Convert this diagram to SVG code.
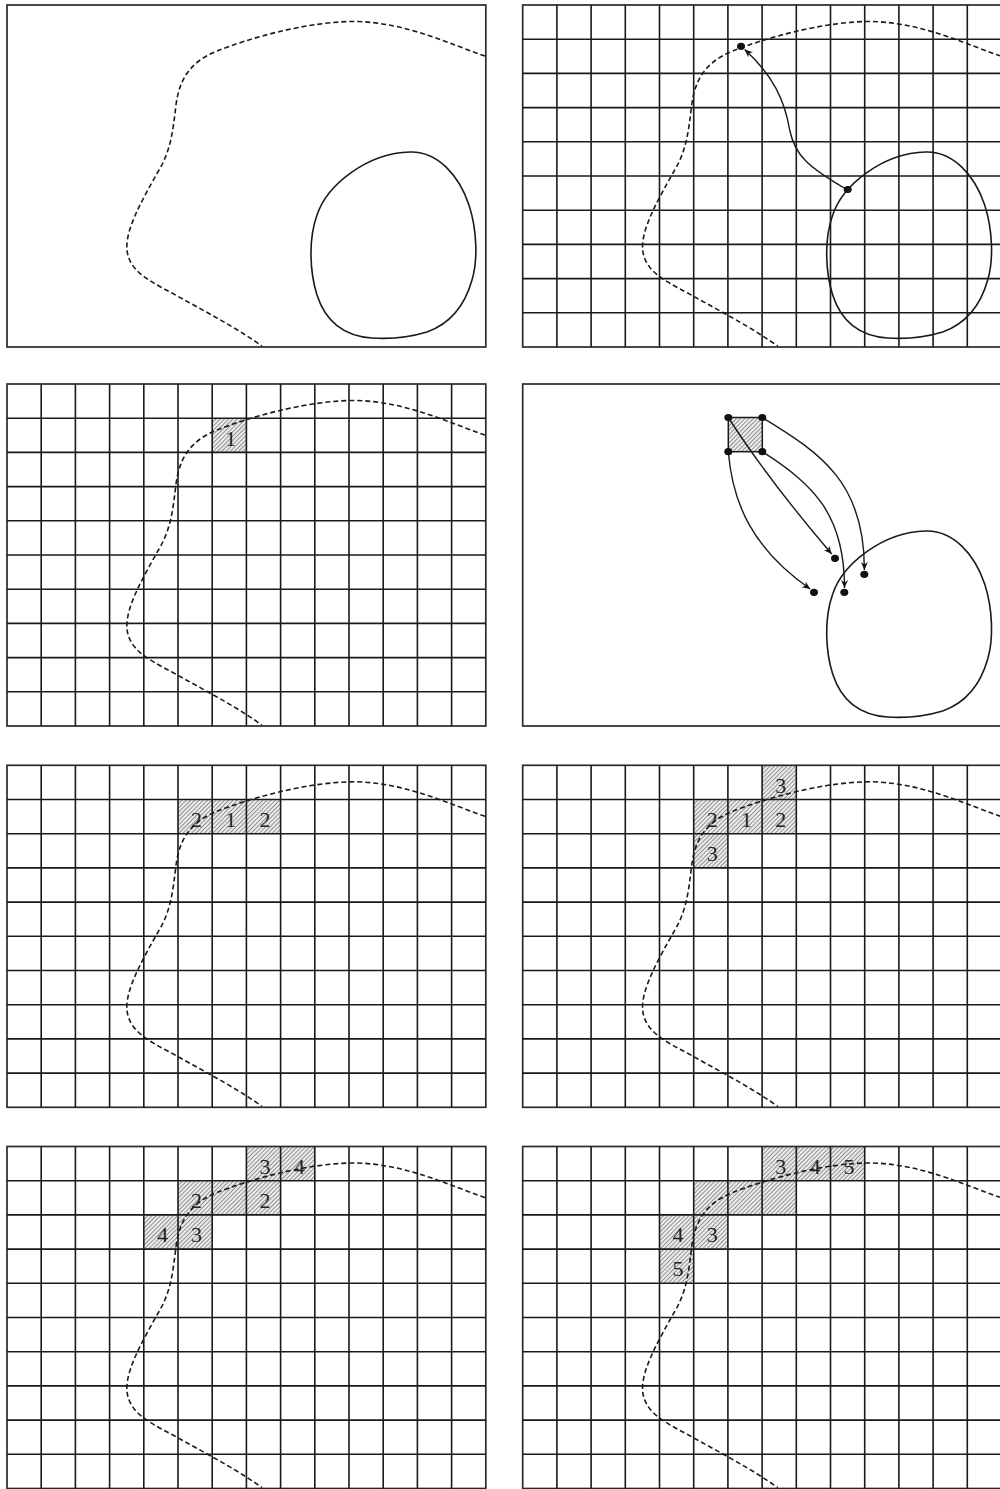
<svg xmlns="http://www.w3.org/2000/svg" xmlns:xlink="http://www.w3.org/1999/xlink" width="1000" height="1489" viewBox="0 0 1000 1489">
<style>
.frame{fill:none;stroke:#2a2a2a;stroke-width:1.7}
.grid{fill:none;stroke:#1a1a1a;stroke-width:1.6}
.bnd{fill:none;stroke:#1a1a1a;stroke-width:1.6;stroke-dasharray:5 3}
.blob{fill:none;stroke:#1a1a1a;stroke-width:1.6}
.cell{fill:url(#hatch)}
.lbl{font-family:"Liberation Serif","Times New Roman",serif;font-size:22px;fill:#222;text-anchor:middle}
.arr{fill:none;stroke:#1a1a1a;stroke-width:1.4;marker-end:url(#ah)}
.dot{fill:#111}
</style>
<defs>
<pattern id="hatch" width="3" height="3" patternUnits="userSpaceOnUse" patternTransform="rotate(45)">
<rect width="3" height="3" fill="#ececec"/>
<line x1="1.5" y1="0" x2="1.5" y2="3" stroke="#888" stroke-width="0.9"/>
</pattern>
<marker id="ah" markerUnits="userSpaceOnUse" markerWidth="10" markerHeight="8" refX="8" refY="4" orient="auto">
<path d="M0,0.5 L8,4 L0,7.5 L2.5,4 Z" fill="#111"/>
</marker>
<rect id="frm" class="frame" x="0" y="0" width="478.8" height="342"/>
<path id="grd" class="grid" d="M34.2,0V342M68.4,0V342M102.6,0V342M136.8,0V342M171,0V342M205.2,0V342M239.4,0V342M273.6,0V342M307.8,0V342M342,0V342M376.2,0V342M410.4,0V342M444.6,0V342M0,34.2H478.8M0,68.4H478.8M0,102.6H478.8M0,136.8H478.8M0,171H478.8M0,205.2H478.8M0,239.4H478.8M0,273.6H478.8M0,307.8H478.8"/>
<path id="bnd" class="bnd" d="M478,51 C440,38 400,18 350,16.5 C300,16 240,34 210,46 C180,58 172,78 169,100 C166,125 164,145 152,165 C135,195 118,225 120,245 C122,265 140,275 165,288 C195,305 225,320 255,341"/>
<path id="blob" class="blob" d="M403,147 C430,146 452,170 462,200 C470,225 471,255 465,275 C458,300 445,318 420,327 C400,333 380,334 365,333 C335,331 318,315 310,290 C303,268 301,235 310,210 C320,180 360,148 403,147 Z"/>
</defs>

<g id="panel1" transform="translate(7,5)">
<use href="#frm"/>
<use href="#bnd"/>
<use href="#blob"/>
</g>

<g id="panel2" transform="translate(522.7,5)">
<use href="#frm"/>
<use href="#grd"/>
<use href="#bnd"/>
<use href="#blob"/>
<g id="panel2-connectors">
<path class="arr" d="M325,185 C285,162 272,150 267,125 C262,95 250,70 222,44.5"/>
</g>
<ellipse class="dot" cx="218.3" cy="41.3" rx="4" ry="3.6"/>
<ellipse class="dot" cx="325" cy="184.5" rx="4" ry="3.6"/>
</g>

<g id="panel3" transform="translate(7,384)">
<rect class="cell" x="205.2" y="34.2" width="34.2" height="34.2"/>
<use href="#frm"/>
<use href="#grd"/>
<use href="#bnd"/>
<text class="lbl" x="223.8" y="61.5">1</text>
</g>

<g id="panel4" transform="translate(522.7,384)">
<use href="#frm"/>
<use href="#blob"/>
<rect class="cell" x="205.6" y="33.5" width="34" height="34.2" stroke="#1a1a1a" stroke-width="1.5"/>
<g id="panel4-connectors">
<path class="arr" d="M205.6,33.5 Q245,95 309,170"/>
<path class="arr" d="M205.6,67.7 C210,120 230,165 287.5,205"/>
<path class="arr" d="M239.6,67.7 C290,100 322,130 321.8,204"/>
<path class="arr" d="M239.6,33.5 C300,70 342,100 341.7,186"/>
</g>
<ellipse class="dot" cx="205.6" cy="33.5" rx="4" ry="3.6"/>
<ellipse class="dot" cx="239.6" cy="33.5" rx="4" ry="3.6"/>
<ellipse class="dot" cx="205.6" cy="67.7" rx="4" ry="3.6"/>
<ellipse class="dot" cx="239.6" cy="67.7" rx="4" ry="3.6"/>
<ellipse class="dot" cx="312.3" cy="174.3" rx="4" ry="3.6"/>
<ellipse class="dot" cx="291.3" cy="208.3" rx="4" ry="3.6"/>
<ellipse class="dot" cx="321.6" cy="208.3" rx="4" ry="3.6"/>
<ellipse class="dot" cx="341.6" cy="190.3" rx="4" ry="3.6"/>
</g>

<g id="panel5" transform="translate(7,765.3)">
<rect class="cell" x="171" y="34.2" width="102.6" height="34.2"/>
<use href="#frm"/>
<use href="#grd"/>
<use href="#bnd"/>
<text class="lbl" x="189.6" y="61.5">2</text>
<text class="lbl" x="223.8" y="61.5">1</text>
<text class="lbl" x="258" y="61.5">2</text>
</g>

<g id="panel6" transform="translate(522.7,765.3)">
<rect class="cell" x="239.4" y="0" width="34.2" height="34.2"/>
<rect class="cell" x="171" y="34.2" width="102.6" height="34.2"/>
<rect class="cell" x="171" y="68.4" width="34.2" height="34.2"/>
<use href="#frm"/>
<use href="#grd"/>
<use href="#bnd"/>
<text class="lbl" x="258" y="27.3">3</text>
<text class="lbl" x="189.6" y="61.5">2</text>
<text class="lbl" x="223.8" y="61.5">1</text>
<text class="lbl" x="258" y="61.5">2</text>
<text class="lbl" x="189.6" y="95.7">3</text>
</g>

<g id="panel7" transform="translate(7,1146.5)">
<rect class="cell" x="239.4" y="0" width="68.4" height="34.2"/>
<rect class="cell" x="171" y="34.2" width="102.6" height="34.2"/>
<rect class="cell" x="136.8" y="68.4" width="68.4" height="34.2"/>
<use href="#frm"/>
<use href="#grd"/>
<use href="#bnd"/>
<text class="lbl" x="258" y="27.3">3</text>
<text class="lbl" x="292.2" y="27.3">4</text>
<text class="lbl" x="189.6" y="61.5">2</text>
<text class="lbl" x="258" y="61.5">2</text>
<text class="lbl" x="155.4" y="95.7">4</text>
<text class="lbl" x="189.6" y="95.7">3</text>
</g>

<g id="panel8" transform="translate(522.7,1146.5)">
<rect class="cell" x="239.4" y="0" width="102.6" height="34.2"/>
<rect class="cell" x="171" y="34.2" width="102.6" height="34.2"/>
<rect class="cell" x="136.8" y="68.4" width="68.4" height="34.2"/>
<rect class="cell" x="136.8" y="102.6" width="34.2" height="34.2"/>
<use href="#frm"/>
<use href="#grd"/>
<use href="#bnd"/>
<text class="lbl" x="258" y="27.3">3</text>
<text class="lbl" x="292.2" y="27.3">4</text>
<text class="lbl" x="326.4" y="27.3">5</text>
<text class="lbl" x="155.4" y="95.7">4</text>
<text class="lbl" x="189.6" y="95.7">3</text>
<text class="lbl" x="155.4" y="129.9">5</text>
</g>
</svg>
